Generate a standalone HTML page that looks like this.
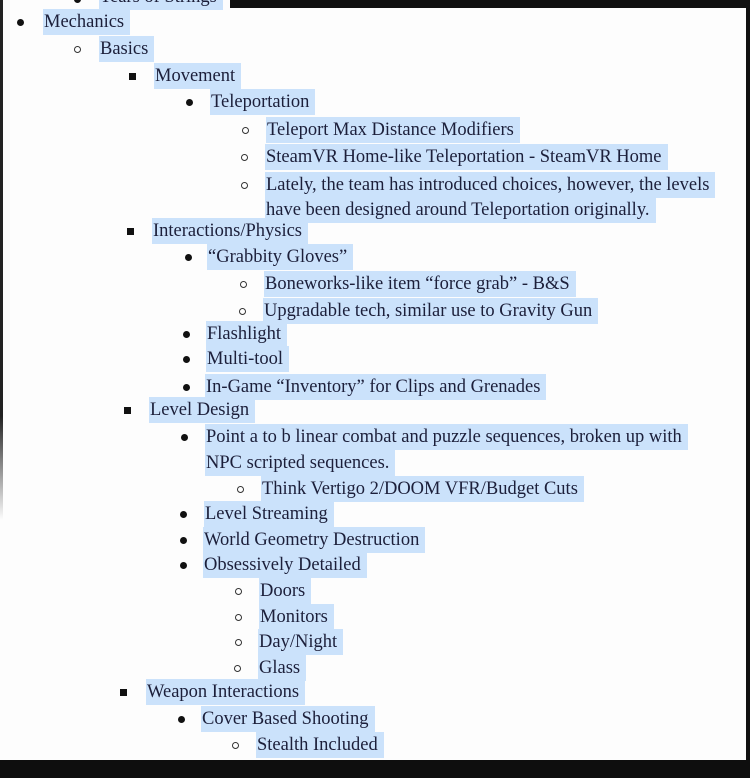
<!DOCTYPE html>
<html><head><meta charset="utf-8"><style>
html,body{margin:0;padding:0}
body{width:750px;height:778px;background:#fdfdfd;position:relative;overflow:hidden;font-family:"Liberation Serif","Times New Roman","DejaVu Serif",serif;font-size:18.5px;color:#1c1f3a}
.t{position:absolute;height:26px;line-height:26px;background:#cbe2fb;padding:0 6px 0 1px;white-space:nowrap}
.b{position:absolute;width:7px;height:7px;border-radius:50%;background:#111}
.c{position:absolute;width:5px;height:5px;border-radius:50%;border:1.2px solid #333;background:#fff}
.s{position:absolute;width:7px;height:7px;background:#111}
.dk{position:absolute;background:#111}
</style></head><body>
<div class="dk" style="left:230px;top:0;width:520px;height:8px"></div>
<div class="dk" style="left:0;top:0;width:3px;height:520px;background:linear-gradient(#222 80%,#fdfdfd)"></div>
<div class="dk" style="left:746px;top:0;width:4px;height:778px"></div>
<div class="dk" style="left:0;top:760px;width:750px;height:18px;background:#0e0e0e"></div>

<div class="b" style="left:74px;top:-4px"></div><div class="t" style="left:99px;top:-16px">Tears of Strings</div>
<div class="b" style="left:17px;top:19px"></div><div class="t" style="left:43px;top:9px">Mechanics</div>
<div class="c" style="left:74px;top:46px"></div><div class="t" style="left:99px;top:36px">Basics</div>
<div class="s" style="left:129px;top:73px"></div><div class="t" style="left:154px;top:63px">Movement</div>
<div class="b" style="left:186px;top:99px"></div><div class="t" style="left:210px;top:89px">Teleportation</div>
<div class="c" style="left:242px;top:127px"></div><div class="t" style="left:266px;top:117px">Teleport Max Distance Modifiers</div>
<div class="c" style="left:241px;top:154px"></div><div class="t" style="left:265px;top:144px">SteamVR Home-like Teleportation - SteamVR Home</div>
<div class="c" style="left:241px;top:182px"></div><div class="t" style="left:265px;top:172px">Lately, the team has introduced choices, however, the levels</div>
<div class="t" style="left:265px;top:197px">have been designed around Teleportation originally.</div>
<div class="s" style="left:127px;top:228px"></div><div class="t" style="left:152px;top:218px">Interactions/Physics</div>
<div class="b" style="left:185px;top:254px"></div><div class="t" style="left:207px;top:244px">“Grabbity Gloves”</div>
<div class="c" style="left:240px;top:281px"></div><div class="t" style="left:264px;top:271px">Boneworks-like item “force grab” - B&amp;S</div>
<div class="c" style="left:239px;top:308px"></div><div class="t" style="left:263px;top:298px">Upgradable tech, similar use to Gravity Gun</div>
<div class="b" style="left:183px;top:331px"></div><div class="t" style="left:206px;top:321px">Flashlight</div>
<div class="b" style="left:183px;top:356px"></div><div class="t" style="left:206px;top:346px">Multi-tool</div>
<div class="b" style="left:183px;top:384px"></div><div class="t" style="left:205px;top:374px">In-Game “Inventory” for Clips and Grenades</div>
<div class="s" style="left:124px;top:407px"></div><div class="t" style="left:149px;top:397px">Level Design</div>
<div class="b" style="left:181px;top:434px"></div><div class="t" style="left:205px;top:424px">Point a to b linear combat and puzzle sequences, broken up with</div>
<div class="t" style="left:205px;top:450px">NPC scripted sequences.</div>
<div class="c" style="left:237px;top:486px"></div><div class="t" style="left:261px;top:476px">Think Vertigo 2/DOOM VFR/Budget Cuts</div>
<div class="b" style="left:180px;top:511px"></div><div class="t" style="left:204px;top:501px">Level Streaming</div>
<div class="b" style="left:180px;top:537px"></div><div class="t" style="left:203px;top:527px">World Geometry Destruction</div>
<div class="b" style="left:180px;top:562px"></div><div class="t" style="left:203px;top:552px">Obsessively Detailed</div>
<div class="c" style="left:235px;top:588px"></div><div class="t" style="left:259px;top:578px">Doors</div>
<div class="c" style="left:235px;top:614px"></div><div class="t" style="left:259px;top:604px">Monitors</div>
<div class="c" style="left:235px;top:639px"></div><div class="t" style="left:258px;top:629px">Day/Night</div>
<div class="c" style="left:234px;top:665px"></div><div class="t" style="left:258px;top:655px">Glass</div>
<div class="s" style="left:120px;top:689px"></div><div class="t" style="left:146px;top:679px">Weapon Interactions</div>
<div class="b" style="left:178px;top:716px"></div><div class="t" style="left:201px;top:706px">Cover Based Shooting</div>
<div class="c" style="left:232px;top:742px"></div><div class="t" style="left:256px;top:732px">Stealth Included</div>
</body></html>
